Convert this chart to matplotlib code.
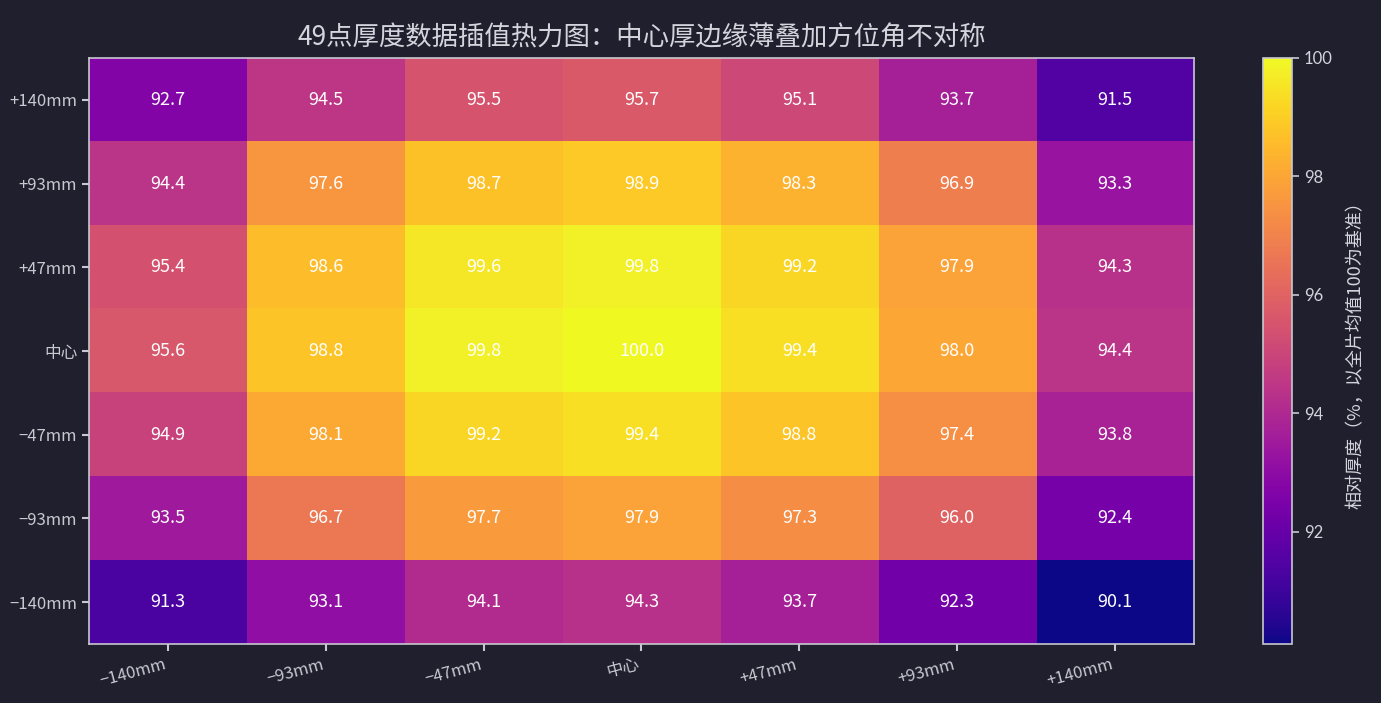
import numpy as np
import matplotlib
matplotlib.use("Agg")
import matplotlib.pyplot as plt

# data: rows top -> bottom, cols left -> right
row_labels = ["+140mm", "+93mm", "+47mm", "中心", "−47mm", "−93mm", "−140mm"]
col_labels = ["−140mm", "−93mm", "−47mm", "中心", "+47mm", "+93mm", "+140mm"]

row_p140 = [92.7, 94.5, 95.5, 95.7, 95.1, 93.7, 91.5]
row_p93 = [94.4, 97.6, 98.7, 98.9, 98.3, 96.9, 93.3]
row_p47 = [95.4, 98.6, 99.6, 99.8, 99.2, 97.9, 94.3]
row_c = [95.6, 98.8, 99.8, 100.0, 99.4, 98.0, 94.4]
row_m47 = [94.9, 98.1, 99.2, 99.4, 98.8, 97.4, 93.8]
row_m93 = [93.5, 96.7, 97.7, 97.9, 97.3, 96.0, 92.4]
row_m140 = [91.3, 93.1, 94.1, 94.3, 93.7, 92.3, 90.1]

thick = np.array([row_p140, row_p93, row_p47, row_c, row_m47, row_m93, row_m140])

bg = "#1f1f2e"
fg = "#d4d4dc"
spine_c = "#c8c8d0"

plt.rcParams['font.family'] = ['Noto Sans CJK SC', 'DejaVu Sans']

fig = plt.figure(figsize=(13.81, 7.03), dpi=100, facecolor=bg)
ax = fig.add_axes([0.0644, 0.0839, 0.8002, 0.8336])
cax = fig.add_axes([0.9146, 0.0839, 0.021, 0.8336])
ax.set_facecolor(bg)

im = ax.imshow(thick, cmap="plasma", aspect="auto",
               vmin=thick.min(), vmax=thick.max())

for i in range(thick.shape[0]):
    for j in range(thick.shape[1]):
        ax.text(j, i, f"{thick[i, j]:.1f}", ha="center", va="center",
                color="white", fontsize=13)

ax.set_xticks(range(len(col_labels)))
ax.set_xticklabels(col_labels, rotation=15, ha="right", fontsize=12, color=fg)
ax.set_yticks(range(len(row_labels)))
ax.set_yticklabels(row_labels, fontsize=12, color=fg)
ax.tick_params(colors=spine_c, length=5, width=1.5)
for s in ax.spines.values():
    s.set_color(spine_c)
    s.set_linewidth(1.2)

ax.set_title("49点厚度数据插值热力图：中心厚边缘薄叠加方位角不对称",
             fontsize=19, color=fg, pad=9)

cb = fig.colorbar(im, cax=cax)
cb.set_ticks([92, 94, 96, 98, 100])
cb.ax.tick_params(colors=spine_c, labelcolor=fg, labelsize=12, length=5, width=1.2)
for t in cb.ax.get_yticklabels():
    t.set_family("Lato")
cb.outline.set_edgecolor(spine_c)
cb.outline.set_linewidth(1.2)
cb.set_label("相对厚度（%，以全片均值100为基准）", color=fg, fontsize=13, labelpad=10)

fig.savefig("out.png", dpi=100, facecolor=bg)
